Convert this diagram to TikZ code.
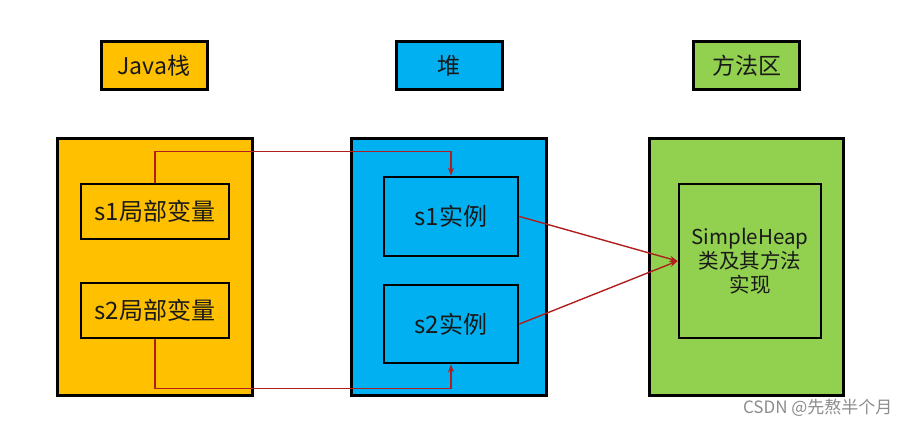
\documentclass[tikz,border=0pt]{standalone}
\usepackage{fontspec}
\setmainfont{Noto Sans CJK SC}
\usetikzlibrary{arrows.meta}
\definecolor{jorange}{HTML}{FFC000}
\definecolor{jblue}{HTML}{00B0F0}
\definecolor{jgreen}{HTML}{92D050}
\definecolor{jred}{HTML}{B01E1E}
\begin{document}
\begin{tikzpicture}[x=1pt,y=-1pt,
  box/.style={draw=black, line width=3pt, inner sep=0pt, text=black!90},
  lbl/.style={box, minimum width=106, minimum height=48, font=\fontsize{23}{26}\selectfont},
  inbox/.style={box, line width=2.8pt, font=\fontsize{24}{27}\selectfont},
  ref/.style={draw=jred, line width=1.4pt},
  tip/.style={-{Stealth[length=8pt,width=6pt]}}]
\useasboundingbox (0,0) rectangle (904,425);
% titles
\node[lbl, fill=jorange] (tstack) at (154,66) {Java栈};
\node[lbl, fill=jblue] (theap) at (449,66) {堆};
\node[lbl, fill=jgreen] (tmeth) at (746.5,66) {方法区};
% big areas
\node[box, fill=jorange, minimum width=195, minimum height=257] (stack) at (155,266.5) {};
\node[box, fill=jblue, minimum width=195, minimum height=257] (heap) at (448.5,266.5) {};
\node[box, fill=jgreen, minimum width=194, minimum height=257] (meth) at (746,266.5) {};
% inner boxes
\node[inbox, fill=jorange, minimum width=148, minimum height=55] (s1v) at (155,211.5) {s1局部变量};
\node[inbox, fill=jorange, minimum width=148, minimum height=55] (s2v) at (155,310.5) {s2局部变量};
\node[inbox, fill=jblue, minimum width=134, minimum height=79] (s1i) at (451,216.5) {s1实例};
\node[inbox, fill=jblue, minimum width=134, minimum height=78] (s2i) at (451,324) {s2实例};
\node[inbox, fill=jgreen, minimum width=142, minimum height=154, align=center,
      font=\fontsize{20.5}{24}\selectfont] (shi) at (750,261) {SimpleHeap\\类及其方法\\实现};
% connectors
\draw[ref, tip] (s1v.north) -- ++(0,-31) -| (s1i.north);
\draw[ref, tip] (s2v.south) -- ++(0,49) -| (s2i.south);
\draw[ref, tip] (s1i.east) -- (shi.west);
\draw[ref, tip] (s2i.east) -- (shi.west);
% watermark
\node[anchor=east, text=black!45, font=\fontsize{17}{19}\selectfont] (wm) at (896,408) {CSDN @先熬半个月};
\end{tikzpicture}
\end{document}
